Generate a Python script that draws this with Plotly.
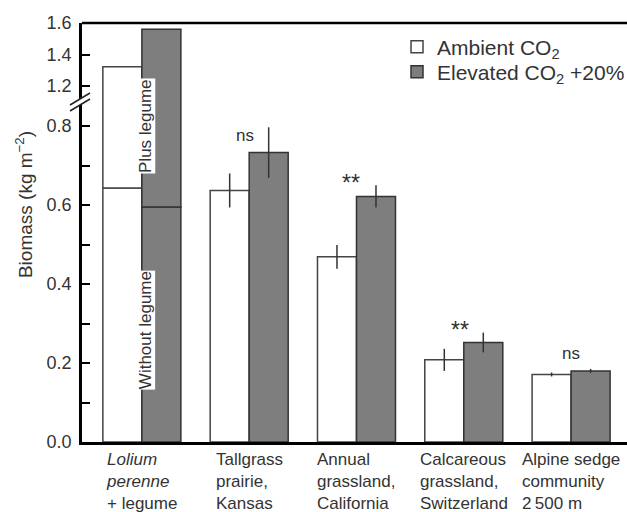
import plotly.graph_objects as go

# ---------------- data ----------------
categories = ["Lolium", "Tallgrass", "Annual", "Calcareous", "Alpine"]
category_labels = [
    "<i>Lolium</i><br><i>perenne</i><br>+ legume",
    "Tallgrass<br>prairie,<br>Kansas",
    "Annual<br>grassland,<br>California",
    "Calcareous<br>grassland,<br>Switzerland",
    "Alpine sedge<br>community<br>2\u2009500 m",
]
ambient = [0.643, 0.637, 0.469, 0.208, 0.171]          # without legume for Lolium
ambient_err = [0.0, 0.043, 0.030, 0.028, 0.005]
elevated = [0.595, 0.733, 0.622, 0.252, 0.180]
elevated_err = [0.0, 0.064, 0.028, 0.025, 0.005]
ambient_plus_legume = [1.322, None, None, None, None]   # total with legume
elevated_plus_legume = [1.561, None, None, None, None]
significance = ["", "ns", "**", "**", "ns"]

# ---------------- styling ----------------
FONT = "Liberation Sans, Arial, Helvetica, sans-serif"
TXT = "#333333"
GREY = "#7e7e7e"
W, H = 627, 512
ML, MR, MT, MB = 82, 0, 23, 70
split = (442 - 104) / (H - MT - MB)   # paper y of the axis break

amb_plus_y = [t - b if t is not None else None for t, b in zip(ambient_plus_legume, ambient)]
elev_plus_y = [t - b if t is not None else None for t, b in zip(elevated_plus_legume, elevated)]

white_marker = dict(color="white", line=dict(color="#444444", width=1.5))
grey_marker = dict(color=GREY, line=dict(color="#333333", width=1.5))
err_style = dict(type="data", visible=True, color="#333333", thickness=1.5, width=0)

fig = go.Figure()
for xa, ya, show in (("x", "y", True), ("x2", "y2", False)):
    fig.add_trace(go.Bar(x=categories, y=ambient, offsetgroup="amb", marker=white_marker,
                         error_y=dict(array=ambient_err, **err_style),
                         name="Ambient CO<sub>2</sub>", showlegend=show, legend="legend",
                         xaxis=xa, yaxis=ya))
    fig.add_trace(go.Bar(x=categories, y=elevated, offsetgroup="elev", marker=grey_marker,
                         error_y=dict(array=elevated_err, **err_style),
                         name="Elevated CO<sub>2</sub> +20%", showlegend=show, legend="legend2",
                         xaxis=xa, yaxis=ya))
    fig.add_trace(go.Bar(x=categories, y=amb_plus_y, base=ambient, offsetgroup="amb",
                         marker=white_marker, showlegend=False, xaxis=xa, yaxis=ya))
    fig.add_trace(go.Bar(x=categories, y=elev_plus_y, base=elevated, offsetgroup="elev",
                         marker=grey_marker, showlegend=False, xaxis=xa, yaxis=ya))

xrange = [-0.558, 4.521]
tickfont = dict(family=FONT, size=18, color=TXT)
legfont = dict(family=FONT, size=21, color=TXT)
py = lambda px: 1 - (px - MT) / (H - MT - MB)   # pixel row -> paper y
fig.update_layout(
    width=W, height=H, autosize=False,
    margin=dict(l=ML, r=MR, t=MT, b=MB, autoexpand=False),
    paper_bgcolor="white", plot_bgcolor="white",
    barmode="group", bargap=0.273, bargroupgap=0,
    showlegend=True,
    legend=dict(x=0.578, y=py(47), xanchor="left", yanchor="middle", font=legfont,
                bgcolor="rgba(0,0,0,0)", itemwidth=30),
    legend2=dict(x=0.578, y=py(72), xanchor="left", yanchor="middle", font=legfont,
                 bgcolor="rgba(0,0,0,0)", itemwidth=30),
    xaxis=dict(domain=[0, 1], range=xrange, anchor="y", showticklabels=False, ticks="",
               showline=True, linecolor="black", linewidth=2.5, showgrid=False, zeroline=False),
    xaxis2=dict(domain=[0, 1], range=xrange, anchor="y2", matches="x", visible=False),
    yaxis=dict(domain=[0, split], range=[0, 0.856], dtick=0.2, tick0=0, tickformat=".1f",
               ticks="inside", ticklen=8, tickwidth=2, tickcolor="black",
               minor=dict(dtick=0.1, ticks="inside", ticklen=8, tickwidth=2, tickcolor="black"),
               showline=True, linecolor="black", linewidth=2.5, showgrid=False, zeroline=False,
               tickfont=tickfont, ticklabelstandoff=4),
    yaxis2=dict(domain=[split, 1], range=[1.086, 1.6], tickvals=[1.2, 1.4, 1.6],
                tickformat=".1f", ticks="inside", ticklen=8, tickwidth=2, tickcolor="black",
                showline=True, linecolor="black", linewidth=2.5, showgrid=False, zeroline=False,
                tickfont=tickfont, ticklabelstandoff=4),
)

# top frame line
fig.add_shape(type="line", xref="paper", yref="paper", x0=0, x1=1, y0=1, y1=1,
              line=dict(color="black", width=2.5))

# axis break marker
fig.add_shape(type="path", xref="paper", yref="paper", xsizemode="pixel", ysizemode="pixel",
              xanchor=0, yanchor=split,
              path="M -12,-7 L 8,5 L 8,11 L -12,-1 Z", fillcolor="white", line=dict(width=0))
for dy in (-7, -1):
    fig.add_shape(type="line", xref="paper", yref="paper", xsizemode="pixel", ysizemode="pixel",
                  xanchor=0, yanchor=split, x0=-12, y0=dy, x1=8, y1=dy + 12,
                  line=dict(color="#222222", width=1.5))

# category labels under the axis
for cat, lab in zip(categories, category_labels):
    fig.add_annotation(x=cat, y=0, xref="x", yref="y", text=lab, showarrow=False,
                       xanchor="center", yanchor="top", align="left", yshift=-6,
                       font=dict(family=FONT, size=17, color=TXT))

# significance labels
xshifts = [0, -4, -5, -4, 0]
for i, (cat, s) in enumerate(zip(categories, significance)):
    if not s:
        continue
    top = max(elevated[i], ambient[i] + ambient_err[i])
    big = s.startswith("*")
    fig.add_annotation(x=cat, y=top, xref="x", yref="y", text=s, showarrow=False,
                       xanchor="center", yanchor="bottom", yshift=(-2 if big else 6),
                       xshift=xshifts[i],
                       font=dict(family=FONT, size=(23 if big else 17), color=TXT))

# in-bar labels for the Lolium pair
fig.add_annotation(x=categories[0], y=0.80, xref="x", yref="y", text="Plus legume",
                   textangle=-90, showarrow=False, bgcolor="white", borderpad=0, xshift=3,
                   font=dict(family=FONT, size=17, color=TXT))
fig.add_annotation(x=categories[0], y=0.283, xref="x", yref="y", text="Without legume",
                   textangle=-90, showarrow=False, bgcolor="white", borderpad=0, xshift=3,
                   font=dict(family=FONT, size=17, color=TXT))

# y-axis title
fig.add_annotation(x=-0.106, y=0.566, xref="paper", yref="paper", xanchor="center",
                   yanchor="middle", text="Biomass (kg m<sup>\u22122</sup>)", textangle=-90,
                   showarrow=False, font=dict(family=FONT, size=19, color=TXT))

fig.write_html(
    "out.html",
    config={"displayModeBar": False, "responsive": False},
    post_script="document.documentElement.style.overflow='hidden';"
                "document.body.style.margin='0';document.body.style.overflow='hidden';",
)
